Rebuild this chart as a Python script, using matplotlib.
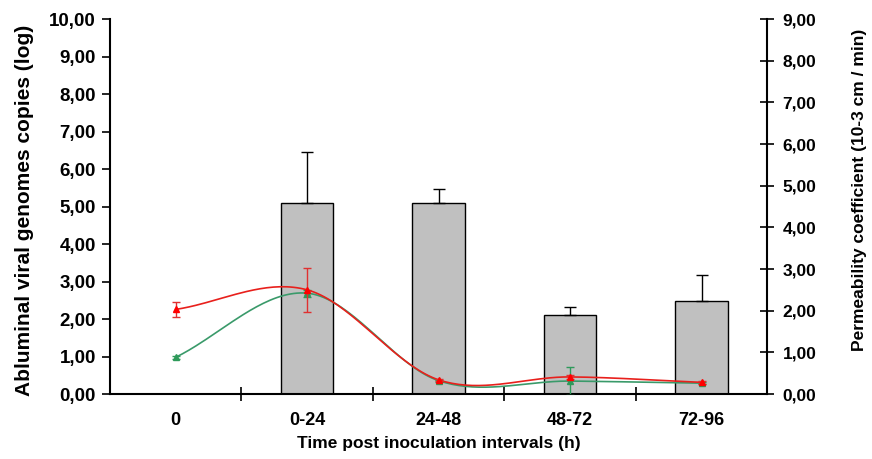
import numpy as np
import matplotlib.pyplot as plt
from matplotlib.ticker import FuncFormatter, FixedLocator

plt.rcParams['font.family'] = ['Liberation Sans', 'DejaVu Sans']
plt.rcParams['font.weight'] = 'bold'

categories = ['0', '0-24', '24-48', '48-72', '72-96']
# viral genomes copies (log), left axis
bar_vals = [0.0, 5.10, 5.10, 2.12, 2.47]
bar_err = [0.0, 1.35, 0.38, 0.20, 0.70]
# permeability coefficient, right axis
red_vals = [2.03, 2.50, 0.34, 0.41, 0.28]
red_err = [0.18, 0.53, 0.03, 0.05, 0.04]
green_vals = [0.88, 2.42, 0.32, 0.31, 0.26]
green_err = [0.03, 0.08, 0.02, 0.33, 0.03]


def smooth(x, y, n=40):
    # Catmull-Rom spline through the points (like Excel's smoothed line)
    x = np.asarray(x, float)
    y = np.asarray(y, float)
    px = np.concatenate([[2 * x[0] - x[1]], x, [2 * x[-1] - x[-2]]])
    py = np.concatenate([[2 * y[0] - y[1]], y, [2 * y[-1] - y[-2]]])
    xs, ys = [], []
    t = np.linspace(0, 1, n)
    for i in range(1, len(px) - 2):
        for p, out in ((px, xs), (py, ys)):
            p0, p1, p2, p3 = p[i - 1], p[i], p[i + 1], p[i + 2]
            out.extend(0.5 * (2 * p1 + (-p0 + p2) * t
                              + (2 * p0 - 5 * p1 + 4 * p2 - p3) * t ** 2
                              + (-p0 + 3 * p1 - 3 * p2 + p3) * t ** 3))
    return np.array(xs), np.array(ys)


fig = plt.figure(figsize=(8.72, 4.59), dpi=100)
ax = fig.add_axes([0.126, 0.1416, 0.754, 0.817])
x = np.arange(len(categories)) + 0.5

ax.bar(x[1:], bar_vals[1:], width=0.4, color='#c0c0c0', edgecolor='black',
       linewidth=1, zorder=1)
ax.errorbar(x[1:], bar_vals[1:], yerr=[np.zeros(4), bar_err[1:]], fmt='none',
            ecolor='black', elinewidth=1, capsize=4, capthick=1, zorder=2)

ax.set_xlim(0, 5)
ax.set_ylim(0, 10)
ax.set_yticks(np.arange(0, 11, 1))
fmt = FuncFormatter(lambda v, p: f'{v:.2f}'.replace('.', ','))
ax.yaxis.set_major_formatter(fmt)
ax.set_xticks(x)
ax.set_xticklabels(categories)
ax.tick_params(axis='x', which='major', length=0, pad=13, labelsize=13)
ax.xaxis.set_minor_locator(FixedLocator([1, 2, 3, 4]))
ax.tick_params(axis='x', which='minor', direction='inout', length=10, width=1.2)
ax.tick_params(axis='y', direction='out', length=6, width=1.2, labelsize=13.5,
               pad=4)
ax.spines['top'].set_visible(False)
ax.spines['right'].set_visible(False)
for s in ('left', 'bottom'):
    ax.spines[s].set_linewidth(1.5)
ax.set_ylabel('Abluminal viral genomes copies (log)', fontsize=15,
              fontweight='bold')
ax.yaxis.set_label_coords(-0.115, 0.49)
ax.set_xlabel('Time post inoculation intervals (h)', fontsize=12.5,
              fontweight='bold', labelpad=5)

ax2 = ax.twinx()
ax2.set_ylim(0, 9)
ax2.set_yticks(np.arange(0, 10, 1))
ax2.yaxis.set_major_formatter(fmt)
ax2.tick_params(axis='y', direction='inout', length=10, width=1.2,
                labelsize=12.5, pad=6)
ax2.spines['top'].set_visible(False)
ax2.spines['left'].set_visible(False)
ax2.spines['bottom'].set_visible(False)
ax2.spines['right'].set_linewidth(1.5)
ax2.set_ylabel('Permeability coefficient (10-3 cm / min)', fontsize=12.5,
               fontweight='bold')
ax2.yaxis.set_label_coords(1.128, 0.545)

gx, gy = smooth(x, green_vals)
ax2.plot(gx, gy, color='#3a9a6a', lw=1.2, zorder=3)
ax2.errorbar(x, green_vals, yerr=green_err, fmt='^', color='#2e9a5a',
             ms=4, ecolor='#2e9a5a', elinewidth=1, capsize=3, zorder=4)
rx, ry = smooth(x, red_vals)
ax2.plot(rx, ry, color='#e8201c', lw=1.2, zorder=5)
ax2.errorbar(x, red_vals, yerr=red_err, fmt='^', color='#ff0000',
             ms=5, ecolor='#e03030', elinewidth=1, capsize=3, zorder=6)

fig.savefig('out.png', dpi=100)
